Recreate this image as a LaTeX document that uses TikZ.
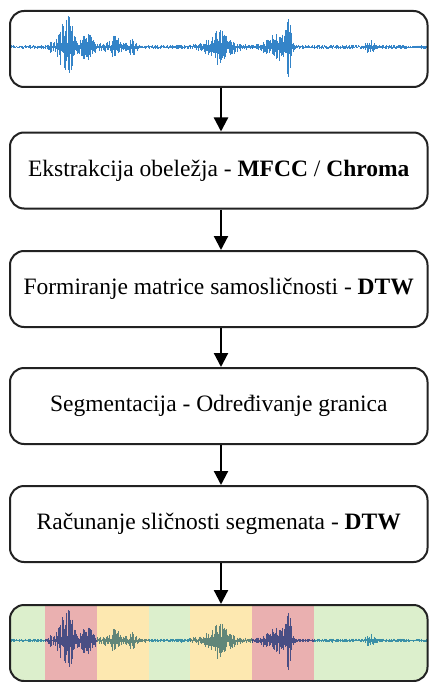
\documentclass[tikz,border=0pt]{standalone}
\usepackage{fontspec}
\setmainfont{Liberation Serif}
\usetikzlibrary{arrows.meta}
\definecolor{boxline}{RGB}{34,34,34}
\definecolor{wave}{RGB}{16,110,190}
\definecolor{bgreen}{RGB}{220,239,204}
\definecolor{bred}{RGB}{234,176,176}
\definecolor{byellow}{RGB}{253,232,176}
\definecolor{wgreen}{RGB}{30,128,160}
\definecolor{wred}{RGB}{45,62,125}
\definecolor{wyellow}{RGB}{70,118,112}
\tikzset{
  box/.style={draw=boxline, line width=2pt, rounded corners=14pt, minimum width=417.5pt,
    minimum height=76pt, inner sep=0pt, font=\fontsize{23.5}{26}\selectfont},
  arr/.style={draw=black, line width=2.2pt, -{Triangle[width=14pt,length=14pt]}},
  wline/.style={line width=0.5pt, opacity=0.85},
  declare function={
    g(\t,\m,\w)=exp(-(pow(min(abs((\t-\m)/\w),6),2)));
    gs(\t,\m,\u,\v)=(\t<\m)?g(\t,\m,\u):g(\t,\m,\v);
    env(\t)=2+5*gs(\t,50,1.5,2)+24*gs(\t,64,7,10)+14*gs(\t,70,3,3)+12*gs(\t,86,6,9)
      +10*gs(\t,115,9,8)+7*gs(\t,132,5,5)+10*gs(\t,220,18,16)+10*gs(\t,219,4,4)
      +12*gs(\t,279,16,8)+26*gs(\t,288,3,4)+6*g(\t,370,4);
    amp(\t)=env(\t)*(0.12+0.88*pow(rnd,1.5));
  }
}
\newcommand\wseg[5]{%
  \pgfmathsetseed{#4}%
  \draw[wline,#5] foreach \t in {#1,#1.6,...,#2}
    {(\t,{#3-amp(\t)}) -- (\t,{#3+amp(\t)})};
}
\begin{document}
\begin{tikzpicture}[x=1pt,y=-1pt]
\useasboundingbox (0,0) rectangle (429,682);
% bands of the bottom box
\begin{scope}
  \clip[rounded corners=14pt] (10,605) rectangle (427.5,681);
  \fill[bgreen] (10,605) rectangle (45,681);
  \fill[bred] (45,605) rectangle (97,681);
  \fill[byellow] (97,605) rectangle (149,681);
  \fill[bgreen] (149,605) rectangle (190,681);
  \fill[byellow] (190,605) rectangle (252,681);
  \fill[bred] (252,605) rectangle (314,681);
  \fill[bgreen] (314,605) rectangle (427.5,681);
\end{scope}
% top waveform
\wseg{11}{45}{47}{11}{wave}
\wseg{45}{97}{47}{12}{wave}
\wseg{97}{149}{47}{13}{wave}
\wseg{149}{190}{47}{14}{wave}
\wseg{190}{252}{47}{15}{wave}
\wseg{252}{314}{47}{16}{wave}
\wseg{314}{427}{47}{17}{wave}
% bottom waveform
\wseg{11}{45}{640.5}{11}{wgreen}
\wseg{45}{97}{640.5}{12}{wred}
\wseg{97}{149}{640.5}{13}{wyellow}
\wseg{149}{190}{640.5}{14}{wgreen}
\wseg{190}{252}{640.5}{15}{wyellow}
\wseg{252}{314}{640.5}{16}{wred}
\wseg{314}{427}{640.5}{17}{wgreen}
% boxes
\node[box] (b1) at (218.75,49) {};
\node[box] (b2) at (218.75,170.5) {Ekstrakcija obeležja - \textbf{MFCC} / \textbf{Chroma}};
\node[box] (b3) at (218.75,289) {Formiranje matrice samosličnosti - \textbf{DTW}};
\node[box] (b4) at (218.75,406) {Segmentacija - Određivanje granica};
\node[box] (b5) at (218.75,524) {Računanje sličnosti segmenata - \textbf{DTW}};
\node[box] (b6) at (218.75,643) {};
% arrows
\coordinate (ax) at (221,0);
\draw[arr] (b1.south -| ax) -- (b2.north -| ax);
\draw[arr] (b2.south -| ax) -- (b3.north -| ax);
\draw[arr] (b3.south -| ax) -- (b4.north -| ax);
\draw[arr] (b4.south -| ax) -- (b5.north -| ax);
\draw[arr] (b5.south -| ax) -- (b6.north -| ax);
\end{tikzpicture}
\end{document}
